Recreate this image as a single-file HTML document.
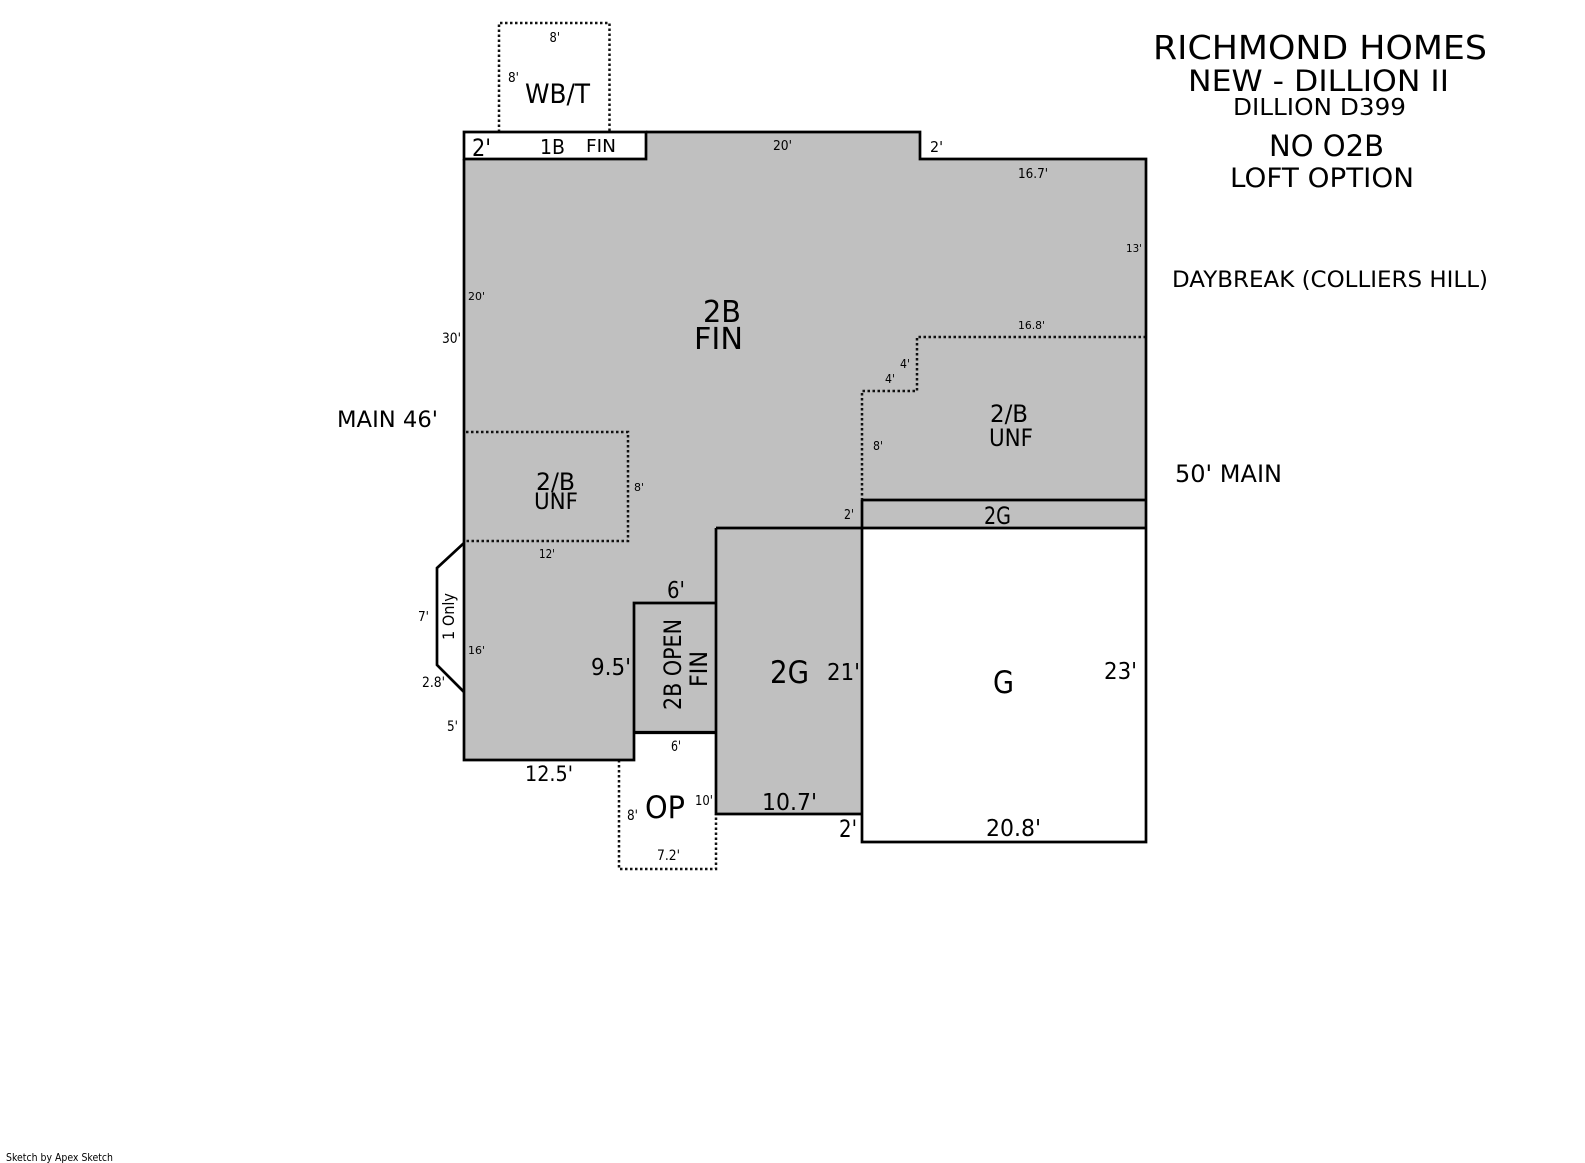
<!DOCTYPE html>
<html>
<head>
<meta charset="utf-8">
<style>
html,body{margin:0;padding:0;background:#fff;width:1585px;height:1163px;overflow:hidden}
svg{display:block}
text{font-family:"DejaVu Sans","Liberation Sans",sans-serif;fill:#000}
</style>
</head>
<body>
<svg width="1585" height="1163" viewBox="0 0 1585 1163" xmlns="http://www.w3.org/2000/svg">
<rect width="1585" height="1163" fill="#fff"/>
<!-- gray areas -->
<polygon points="464,159 646,159 646,132 920,132 920,159 1146,159 1146,528 862,528 862,814 716,814 716,733 634,733 634,760 464,760" fill="#c0c0c0"/>
<!-- dotted -->
<g fill="none" stroke="#111" stroke-width="2.5" stroke-dasharray="2.5 2.5">
<polyline points="499,132 499,23 609.5,23 609.5,132"/>
<polyline points="1146,337 917,337 917,391 862,391 862,500"/>
<polyline points="466,432 628,432 628,541 464,541"/>
<polyline points="619,760 619,869 716,869 716,814"/>
</g>
<!-- solid walls -->
<g fill="none" stroke="#000" stroke-width="2.7">
<polygon points="464,132 646,132 646,159 464,159" fill="#fff"/>
<polyline points="646,132 920,132 920,159 1146,159 1146,842 862,842 862,500"/>
<line x1="862" y1="500" x2="1146" y2="500"/>
<line x1="716" y1="528" x2="1146" y2="528"/>
<polyline points="464,159 464,760 634,760 634,603 716,603"/>
<line x1="634" y1="732.5" x2="716" y2="732.5" stroke-width="3.2"/>
<polyline points="716,528 716,814 862,814"/>
<polyline points="464,543 437,568 437,665 464,692"/>
</g>
<!-- title -->
<text x="1153" y="59" font-size="33" textLength="334" lengthAdjust="spacingAndGlyphs">RICHMOND HOMES</text>
<text x="1188" y="91" font-size="29" textLength="261" lengthAdjust="spacingAndGlyphs">NEW - DILLION II</text>
<text x="1233" y="115" font-size="23" textLength="173" lengthAdjust="spacingAndGlyphs">DILLION D399</text>
<text x="1269" y="156" font-size="29" textLength="115" lengthAdjust="spacingAndGlyphs">NO O2B</text>
<text x="1230" y="187" font-size="27" textLength="184" lengthAdjust="spacingAndGlyphs">LOFT OPTION</text>
<text x="1172" y="287" font-size="22" textLength="316" lengthAdjust="spacingAndGlyphs">DAYBREAK (COLLIERS HILL)</text>
<text x="337" y="427" font-size="22" textLength="101" lengthAdjust="spacingAndGlyphs">MAIN 46'</text>
<text x="1175" y="482" font-size="24" textLength="107" lengthAdjust="spacingAndGlyphs">50' MAIN</text>
<!-- top -->
<text x="525" y="103" font-size="27" textLength="65" lengthAdjust="spacingAndGlyphs">WB/T</text>
<text x="549.5" y="42" font-size="13" textLength="10.5" lengthAdjust="spacingAndGlyphs">8'</text>
<text x="508" y="82" font-size="13" textLength="11" lengthAdjust="spacingAndGlyphs">8'</text>
<text x="472" y="156" font-size="24" textLength="19" lengthAdjust="spacingAndGlyphs">2'</text>
<text x="540" y="154" font-size="20" textLength="25" lengthAdjust="spacingAndGlyphs">1B</text>
<text x="586" y="152" font-size="18" textLength="30" lengthAdjust="spacingAndGlyphs">FIN</text>
<text x="773" y="150" font-size="13" textLength="19" lengthAdjust="spacingAndGlyphs">20'</text>
<text x="930" y="152" font-size="15" textLength="13" lengthAdjust="spacingAndGlyphs">2'</text>
<text x="1018" y="178" font-size="13" textLength="30" lengthAdjust="spacingAndGlyphs">16.7'</text>
<text x="1126" y="252" font-size="11" textLength="16" lengthAdjust="spacingAndGlyphs">13'</text>
<text x="468" y="300" font-size="11" textLength="17" lengthAdjust="spacingAndGlyphs">20'</text>
<text x="442" y="343" font-size="14" textLength="19" lengthAdjust="spacingAndGlyphs">30'</text>
<text x="703" y="322" font-size="30" textLength="38" lengthAdjust="spacingAndGlyphs">2B</text>
<text x="694" y="349" font-size="30" textLength="49" lengthAdjust="spacingAndGlyphs">FIN</text>
<!-- right unf -->
<text x="1018" y="329" font-size="11" textLength="27" lengthAdjust="spacingAndGlyphs">16.8'</text>
<text x="900" y="368" font-size="12" textLength="10" lengthAdjust="spacingAndGlyphs">4'</text>
<text x="885" y="383" font-size="12" textLength="10" lengthAdjust="spacingAndGlyphs">4'</text>
<text x="873" y="450" font-size="12" textLength="10" lengthAdjust="spacingAndGlyphs">8'</text>
<text x="844" y="519" font-size="13" textLength="10" lengthAdjust="spacingAndGlyphs">2'</text>
<text x="990" y="422" font-size="24" textLength="38" lengthAdjust="spacingAndGlyphs">2/B</text>
<text x="989" y="446" font-size="24" textLength="44" lengthAdjust="spacingAndGlyphs">UNF</text>
<text x="984" y="524" font-size="24" textLength="27" lengthAdjust="spacingAndGlyphs">2G</text>
<!-- left unf -->
<text x="536" y="490" font-size="24" textLength="39" lengthAdjust="spacingAndGlyphs">2/B</text>
<text x="534" y="509" font-size="22" textLength="44" lengthAdjust="spacingAndGlyphs">UNF</text>
<text x="634" y="491" font-size="11" textLength="10" lengthAdjust="spacingAndGlyphs">8'</text>
<text x="539" y="558" font-size="12" textLength="16" lengthAdjust="spacingAndGlyphs">12'</text>
<!-- lower left -->
<text x="667" y="598" font-size="23" textLength="18" lengthAdjust="spacingAndGlyphs">6'</text>
<text x="591" y="675" font-size="23" textLength="40" lengthAdjust="spacingAndGlyphs">9.5'</text>
<text transform="translate(681,710) rotate(-90)" font-size="24" textLength="91" lengthAdjust="spacingAndGlyphs">2B OPEN</text>
<text transform="translate(707,687) rotate(-90)" font-size="24" textLength="36" lengthAdjust="spacingAndGlyphs">FIN</text>
<text transform="translate(454,640) rotate(-90)" font-size="16" textLength="47" lengthAdjust="spacingAndGlyphs">1 Only</text>
<text x="468" y="654" font-size="11" textLength="17" lengthAdjust="spacingAndGlyphs">16'</text>
<text x="418" y="621" font-size="13" textLength="11" lengthAdjust="spacingAndGlyphs">7'</text>
<text x="422" y="687" font-size="14" textLength="23" lengthAdjust="spacingAndGlyphs">2.8'</text>
<text x="447" y="731" font-size="14" textLength="11" lengthAdjust="spacingAndGlyphs">5'</text>
<text x="525" y="781" font-size="21" textLength="48" lengthAdjust="spacingAndGlyphs">12.5'</text>
<text x="671" y="751" font-size="14" textLength="10" lengthAdjust="spacingAndGlyphs">6'</text>
<text x="645" y="818" font-size="31" textLength="40" lengthAdjust="spacingAndGlyphs">OP</text>
<text x="627" y="820" font-size="14" textLength="11" lengthAdjust="spacingAndGlyphs">8'</text>
<text x="695" y="805" font-size="13" textLength="18" lengthAdjust="spacingAndGlyphs">10'</text>
<text x="657" y="860" font-size="14" textLength="23" lengthAdjust="spacingAndGlyphs">7.2'</text>
<!-- garage -->
<text x="770" y="683" font-size="31" textLength="39" lengthAdjust="spacingAndGlyphs">2G</text>
<text x="827" y="680" font-size="23" textLength="33" lengthAdjust="spacingAndGlyphs">21'</text>
<text x="993" y="693" font-size="31" textLength="21" lengthAdjust="spacingAndGlyphs">G</text>
<text x="1104" y="679" font-size="23" textLength="33" lengthAdjust="spacingAndGlyphs">23'</text>
<text x="762" y="810" font-size="23" textLength="55" lengthAdjust="spacingAndGlyphs">10.7'</text>
<text x="839" y="837" font-size="24" textLength="18" lengthAdjust="spacingAndGlyphs">2'</text>
<text x="986" y="836" font-size="23" textLength="55" lengthAdjust="spacingAndGlyphs">20.8'</text>
<text x="6" y="1161" font-size="11" textLength="107" lengthAdjust="spacingAndGlyphs">Sketch by Apex Sketch</text>
</svg>
</body>
</html>
